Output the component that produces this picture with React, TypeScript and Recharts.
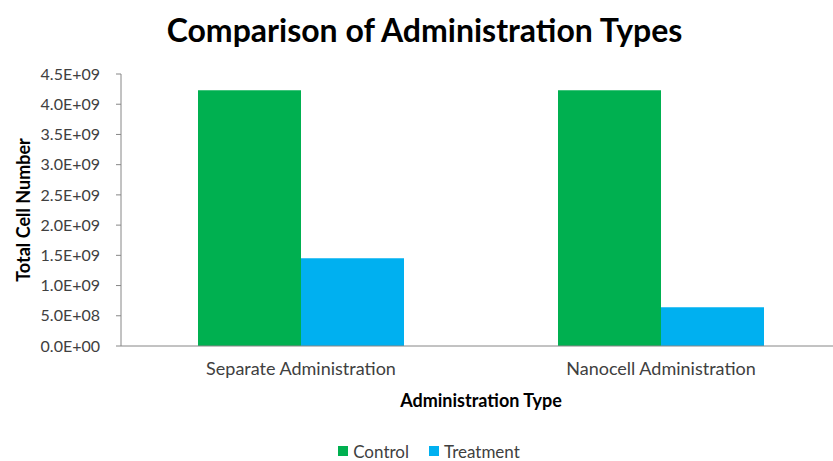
import { Bar, BarChart, Label, Legend, XAxis, YAxis } from "recharts";

const categories = ["Separate Administration", "Nanocell Administration"];
const control = [4.23e9, 4.23e9];
const treatment = [1.45e9, 0.64e9];
const yTicks = [0, 0.5e9, 1e9, 1.5e9, 2e9, 2.5e9, 3e9, 3.5e9, 4e9, 4.5e9];

const GREEN = "#00B050";
const BLUE = "#00B0F0";
const AXIS = "#868686";
const TEXT = "#404040";
const FONT = "Lato, 'Open Sans', sans-serif";

const rows = categories.map((name, i) => ({
  name,
  Control: control[i],
  Treatment: treatment[i],
}));

// Excel-style scientific labels, e.g. 4.5E+09
function sci(v: number) {
  if (v === 0) return "0.0E+00";
  const exp = Math.floor(Math.log10(Math.abs(v)));
  const mant = v / Math.pow(10, exp);
  const sign = exp < 0 ? "-" : "+";
  return `${mant.toFixed(1)}E${sign}${String(Math.abs(exp)).padStart(2, "0")}`;
}

function LegendBox() {
  const items = [
    { label: "Control", color: GREEN },
    { label: "Treatment", color: BLUE },
  ];
  return (
    <div
      style={{
        display: "flex",
        justifyContent: "center",
        gap: 20,
        height: 20,
        fontFamily: FONT,
        fontSize: 17,
        color: TEXT,
        paddingLeft: 17,
      }}
    >
      {items.map((it) => (
        <div key={it.label} style={{ display: "flex", alignItems: "center", gap: 5 }}>
          <span style={{ width: 10, height: 10, background: it.color, display: "inline-block" }} />
          <span>{it.label}</span>
        </div>
      ))}
    </div>
  );
}

export default function App() {
  return (
    <div
      style={{
        position: "absolute",
        left: 0,
        top: 0,
        width: 833,
        height: 461,
        overflow: "hidden",
        background: "#fff",
        fontFamily: FONT,
      }}
    >
      <div
        style={{
          position: "absolute",
          left: 0,
          width: 849,
          top: 10,
          textAlign: "center",
          fontSize: 32,
          lineHeight: "40px",
          fontWeight: 700,
          color: "#000",
        }}
      >
        Comparison of Administration Types
      </div>
      <BarChart
        width={861}
        height={461}
        data={rows}
        margin={{ top: 74, right: 20, bottom: 0, left: 0 }}
        barCategoryGap={77}
        barGap={0}
      >
        {/* axis line with tick marks between the categories */}
        <XAxis
          xAxisId={0}
          type="number"
          domain={[0, 2]}
          ticks={[0, 1, 2]}
          allowDataOverflow
          tick={false}
          tickSize={6}
          height={7}
          stroke={AXIS}
        />
        <XAxis
          xAxisId={1}
          dataKey="name"
          axisLine={false}
          tickLine={false}
          tickSize={0}
          tickMargin={9}
          height={88}
          tick={{ fill: TEXT, fontSize: 18, fontFamily: FONT }}
        >
          <Label
            value="Administration Type"
            position="insideTop"
            offset={41}
            style={{ fontWeight: 700, fontSize: 18, fill: "#000", fontFamily: FONT }}
          />
        </XAxis>
        <YAxis
          width={121}
          domain={[0, 4.5e9]}
          ticks={yTicks}
          tickFormatter={sci}
          interval={0}
          tickSize={5}
          tickMargin={16}
          stroke={AXIS}
          tick={{ fill: TEXT, fontSize: 16, fontFamily: FONT }}
        >
          <Label
            value="Total Cell Number"
            angle={-90}
            position="insideLeft"
            offset={24}
            style={{ fontWeight: 700, fontSize: 18, fill: "#000", fontFamily: FONT, textAnchor: "middle" }}
          />
        </YAxis>
        <Legend verticalAlign="bottom" content={() => <LegendBox />} />
        <Bar xAxisId={1} dataKey="Control" fill={GREEN} isAnimationActive={false} />
        <Bar xAxisId={1} dataKey="Treatment" fill={BLUE} isAnimationActive={false} />
      </BarChart>
    </div>
  );
}
